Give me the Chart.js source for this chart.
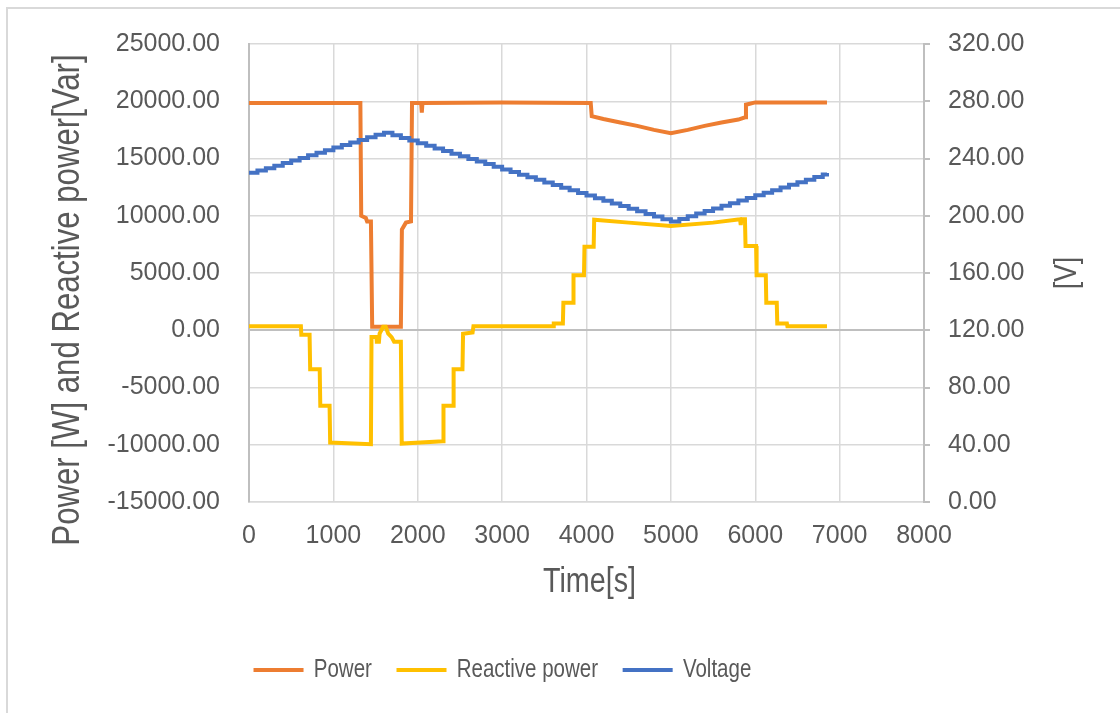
<!DOCTYPE html>
<html>
<head>
<meta charset="utf-8">
<script src="https://cdn.jsdelivr.net/npm/chart.js@4"></script>
<style>
  html, body { margin: 0; padding: 0; background: #fff; }
  #wrap { width: 1120px; height: 713px; }
</style>
</head>
<body>
<div id="wrap"><canvas id="chart" width="1120" height="713"></canvas></div>
<script>
// ---- data ----
const seriesNames = ["Power", "Reactive power", "Voltage"];

const powerTime = [0, 1320, 1330, 1385, 1400, 1445, 1460, 1800, 1812, 1860, 1920, 1932, 2040, 2048, 2056, 3000,
  4050, 4062, 4200, 4400, 4600, 4800, 5000, 5200, 5400, 5600, 5800, 5880, 5890, 6000, 6850];
const powerValues = [19850, 19850, 10000, 9800, 9500, 9500, 300, 300, 8800, 9400, 9500, 19850, 19850, 19000, 19850, 19900,
  19850, 18700, 18450, 18150, 17850, 17500, 17200, 17500, 17850, 18150, 18400, 18600, 19700, 19900, 19900];

const reactiveTime = [0, 615, 620, 718, 725, 838, 845, 955, 962, 1445, 1452, 1510, 1515, 1540, 1548, 1590, 1620, 1650,
  1690, 1720, 1800, 1810, 2300, 2305, 2418, 2425, 2530, 2537, 2650, 2660, 3605, 3612, 3720, 3726, 3840, 3846,
  3970, 3976, 4085, 4091, 4500, 5000, 5500, 5820, 5828, 5836, 5878, 5885, 6010, 6016, 6125, 6131, 6255, 6261,
  6375, 6381, 6850];
const reactiveValues = [350, 350, -400, -400, -3400, -3400, -6600, -6600, -9800, -9950, -600, -600, -1000, -1000, -300, 300, 300, -300,
  -600, -1000, -1000, -9900, -9700, -6600, -6600, -3400, -3400, -300, -200, 350, 350, 600, 600, 2400, 2400, 4800,
  4800, 7300, 7300, 9650, 9400, 9100, 9400, 9700, 9200, 9700, 9700, 7350, 7350, 4800, 4800, 2400, 2400, 600,
  600, 350, 350];

const voltageTime = [0, 100, 200, 300, 400, 500, 600, 700, 800, 900, 1000, 1100, 1200, 1300, 1400, 1500, 1600,
  1700, 1800, 1900, 2000, 2100, 2200, 2300, 2400, 2500, 2600, 2700, 2800, 2900, 3000, 3100, 3200, 3300,
  3400, 3500, 3600, 3700, 3800, 3900, 4000, 4100, 4200, 4300, 4400, 4500, 4600, 4700, 4800, 4900, 5000,
  5100, 5200, 5300, 5400, 5500, 5600, 5700, 5800, 5900, 6000, 6100, 6200, 6300, 6400, 6500, 6600, 6700,
  6800, 6850];
const voltageValues = [230.0, 231.6, 233.2, 235.0, 236.8, 238.6, 240.4, 242.2, 244.0, 245.8, 247.6, 249.4, 251.2, 253.0, 254.8, 256.6, 258.0,
  256.2, 254.3, 252.5, 250.7, 248.9, 247.0, 245.2, 243.4, 241.5, 239.7, 237.9, 236.1, 234.2, 232.4, 230.6, 228.7, 226.9,
  225.1, 223.2, 221.4, 219.6, 217.8, 215.9, 214.1, 212.3, 210.4, 208.6, 206.8, 204.9, 203.1, 201.3, 199.5, 197.6, 196.0,
  197.8, 199.6, 201.5, 203.3, 205.1, 206.9, 208.8, 210.6, 212.4, 214.3, 216.1, 217.9, 219.7, 221.6, 223.4, 225.2, 227.1,
  228.9, 229.8];

const timeTicks = [0, 1000, 2000, 3000, 4000, 5000, 6000, 7000, 8000];
const powerTicks = [-15000, -10000, -5000, 0, 5000, 10000, 15000, 20000, 25000];
const voltTicks = [0, 40, 80, 120, 160, 200, 240, 280, 320];

const xTitle = "Time[s]";
const powerAxisTitle = "Power [W] and Reactive power[Var]";
const voltAxisTitle = "[V]";

// ---- helpers ----
const textGrey = "#595959";
const fontFamily = '"Liberation Sans", Arial, sans-serif';
const squeeze = 0.82; // the original text face is tall and narrow

function toPoints(times, values) {
  return times.map((t, i) => ({ x: t, y: values[i] }));
}

function useTicks(list) {
  return scale => { scale.ticks = list.map(v => ({ value: v })); };
}

function drawTitle(ctx, text, x, y, size, angle) {
  ctx.save();
  ctx.translate(x, y);
  ctx.rotate(angle);
  ctx.scale(squeeze, 1);
  ctx.font = size + "px " + fontFamily;
  ctx.fillStyle = textGrey;
  ctx.textAlign = "center";
  ctx.textBaseline = "middle";
  ctx.fillText(text, 0, 0);
  ctx.restore();
}

const framePlugin = {
  id: "framePlugin",
  beforeDraw(chart) {
    const ctx = chart.ctx;
    ctx.save();
    ctx.strokeStyle = "#d9d9d9";
    ctx.lineWidth = 2;
    ctx.strokeRect(7, 8, 1200, 800);
    ctx.restore();
  },
  afterLayout(chart) {
    const legend = chart.legend;
    legend.left += 52.7;
    legend.right += 52.7;
    if (!legend._squeezed) {
      // draw the legend narrowed horizontally, like the titles
      const plainDraw = legend.draw.bind(legend);
      legend.draw = area => {
        chart.ctx.save();
        chart.ctx.scale(squeeze, 1);
        plainDraw(area);
        chart.ctx.restore();
      };
      legend._squeezed = true;
    }
  },
  afterDraw(chart) {
    const area = chart.chartArea;
    const mid = (area.top + area.bottom) / 2;
    drawTitle(chart.ctx, powerAxisTitle, chart.scales.y.left + 69, mid + 27, 38, -Math.PI / 2);
    drawTitle(chart.ctx, voltAxisTitle, chart.scales.y1.left + 143, mid, 32, -Math.PI / 2);
    drawTitle(chart.ctx, xTitle, (area.left + area.right) / 2 + 3, area.bottom + 80.5, 35, 0);
  }
};

const ctx = document.getElementById("chart").getContext("2d");

new Chart(ctx, {
  type: "line",
  data: {
    datasets: [
      {
        label: seriesNames[0],
        data: toPoints(powerTime, powerValues),
        borderColor: "#ED7D31",
        backgroundColor: "#ED7D31",
        borderWidth: 4,
        yAxisID: "y",
        order: 3
      },
      {
        label: seriesNames[1],
        data: toPoints(reactiveTime, reactiveValues),
        borderColor: "#FFC000",
        backgroundColor: "#FFC000",
        borderWidth: 4,
        yAxisID: "y",
        order: 2
      },
      {
        label: seriesNames[2],
        data: toPoints(voltageTime, voltageValues),
        borderColor: "#4472C4",
        backgroundColor: "#4472C4",
        borderWidth: 4,
        stepped: true,
        yAxisID: "y1",
        order: 1
      }
    ]
  },
  options: {
    responsive: false,
    animation: false,
    devicePixelRatio: 1,
    elements: { point: { radius: 0 }, line: { tension: 0 } },
    layout: { padding: { left: 0, right: 0, top: 44, bottom: 20.5 } },
    plugins: {
      tooltip: { enabled: false },
      legend: {
        position: "bottom",
        labels: {
          usePointStyle: true,
          pointStyle: "line",
          pointStyleWidth: 61,
          padding: 30,
          color: textGrey,
          font: { family: fontFamily, size: 25 },
          sort: (a, b) => a.datasetIndex - b.datasetIndex
        }
      }
    },
    scales: {
      x: {
        type: "linear",
        min: 0,
        max: 8000,
        afterBuildTicks: useTicks(timeTicks),
        afterFit: s => { s.height = 125.5; },
        grid: { color: "#d9d9d9", lineWidth: 1.5, drawTicks: false },
        border: { color: "#d9d9d9", width: 1.5 },
        ticks: {
          padding: 19, color: textGrey, font: { family: fontFamily, size: 25 },
          callback: v => String(v)
        }
      },
      y: {
        position: "left",
        min: -15000,
        max: 25000,
        afterBuildTicks: useTicks(powerTicks),
        afterFit: s => { s.width = 249; },
        grid: {
          color: c => (c.tick && c.tick.value === 0 ? "#bfbfbf" : "#d9d9d9"),
          lineWidth: c => (c.tick && c.tick.value === 0 ? 2 : 1.5),
          drawTicks: false
        },
        border: { color: "#bfbfbf", width: 2 },
        ticks: {
          padding: 29, color: textGrey, font: { family: fontFamily, size: 25 },
          callback: v => v.toFixed(2)
        }
      },
      y1: {
        position: "right",
        min: 0,
        max: 320,
        afterBuildTicks: useTicks(voltTicks),
        afterFit: s => { s.width = 196; },
        grid: { drawOnChartArea: false, drawTicks: true, tickLength: 6, color: "#bfbfbf", lineWidth: 2 },
        border: { color: "#bfbfbf", width: 2 },
        ticks: {
          padding: 18, color: textGrey, font: { family: fontFamily, size: 25 },
          callback: v => v.toFixed(2)
        }
      }
    }
  },
  plugins: [framePlugin]
});
</script>
</body>
</html>
